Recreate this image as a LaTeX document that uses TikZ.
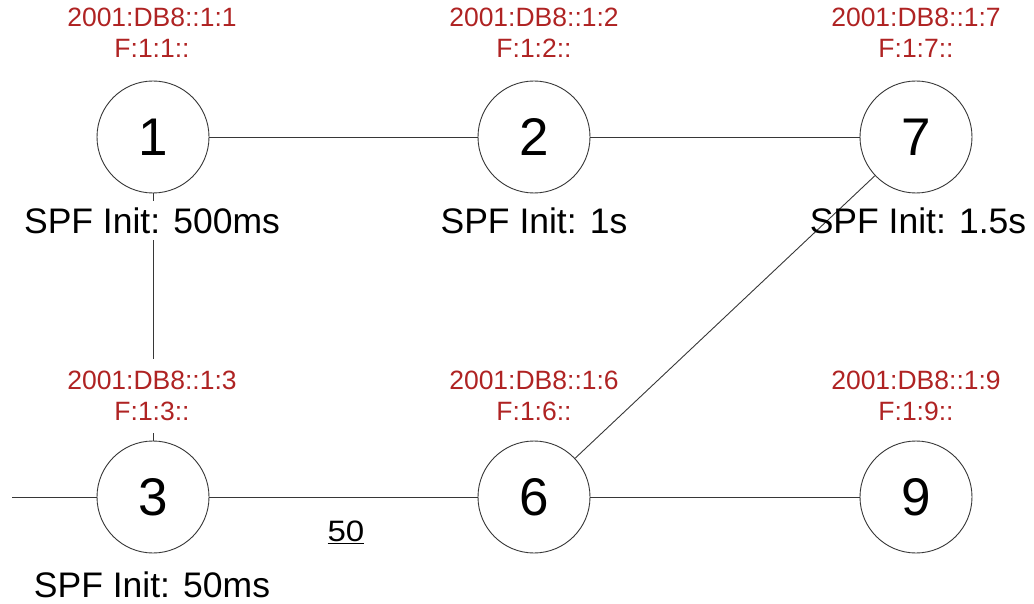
\documentclass[tikz,border=0pt]{standalone}
\usepackage{fontspec}
\setmainfont{Liberation Sans}
\newfontfamily\wfont[FakeStretch=1.12]{Liberation Sans}
\usetikzlibrary{backgrounds}
\definecolor{addr}{RGB}{175,35,35}
\definecolor{edgegray}{RGB}{55,55,55}
\begin{document}
\begin{tikzpicture}[x=1pt,y=-1pt,
  router/.style={circle,draw=edgegray,line width=0.9pt,fill=white,minimum size=112pt,inner sep=0pt,font=\fontsize{53}{53}\selectfont},
  addrlbl/.style={text=addr,align=center,inner xsep=2pt,inner ysep=12pt,font=\fontsize{26.5}{30.5}\selectfont},
  spf/.style={fill=white,inner sep=6pt,font=\fontsize{35.5}{36}\selectfont},
  spfclear/.style={inner sep=6pt,font=\fontsize{35.5}{36}\selectfont},
  weight/.style={inner sep=1pt,font=\wfont\fontsize{29.5}{29.5}\selectfont},
  link/.style={draw=edgegray,line width=0.9pt}]
\useasboundingbox (0,0) rectangle (1034,604);
\node[router] (n1) at (153,137) {1};
\node[router] (n2) at (534,137) {2};
\node[router] (n7) at (916,137) {7};
\node[router] (n3) at (153,497) {3};
\node[router] (n6) at (534,497) {6};
\node[router] (n9) at (916,497) {9};
\coordinate (stub) at (12,497);
\node[addrlbl] (a1) at (152,32.7) {2001:DB8::1:1\\F:1:1::};
\node[addrlbl] (a2) at (534,32.7) {2001:DB8::1:2\\F:1:2::};
\node[addrlbl] (a7) at (916,32.7) {2001:DB8::1:7\\F:1:7::};
\node[addrlbl,fill=white] (a3) at (152,396) {2001:DB8::1:3\\F:1:3::};
\node[addrlbl] (a6) at (534,396) {2001:DB8::1:6\\F:1:6::};
\node[addrlbl] (a9) at (916,396) {2001:DB8::1:9\\F:1:9::};
\node[spf] (s1) at (152,220.5) {SPF Init: 500ms};
\node[spf] (s2) at (534,220.5) {SPF Init: 1s};
\node[spfclear] (s7) at (918,221) {SPF Init: 1.5s};
\node[spf] (s3) at (152,585) {SPF Init: 50ms};
\node[weight] (w36) at (346,532.5) {\underline{50}};
\begin{scope}[on background layer]
\draw[link] (n1) -- (n2);
\draw[link] (n2) -- (n7);
\draw[link] (n1) -- (n3);
\draw[link] (stub) -- (n3);
\draw[link] (n3) -- (n6);
\draw[link] (n6) -- (n9);
\draw[link] (n6) -- (n7);
\end{scope}
\end{tikzpicture}
\end{document}
